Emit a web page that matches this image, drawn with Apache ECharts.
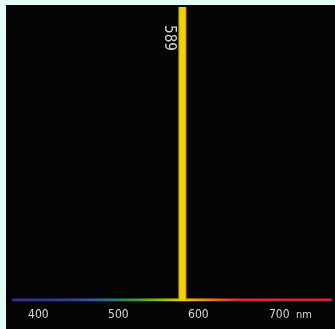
<!DOCTYPE html>
<html><head><meta charset="utf-8">
<script src="https://cdn.jsdelivr.net/npm/echarts@6/dist/echarts.min.js"></script>
<style>
html,body{margin:0;padding:0;background:#e2fff9;width:335px;height:329px;overflow:hidden}
#c{position:absolute;left:6px;top:5px;width:329px;height:324px;background:#050505}
</style></head><body>
<div id="c"></div>
<script>
var tickValues = [400, 500, 600, 700];
var lineName = '589';
var lineWavelength = 580;
var lineIntensity = 100;
var axisMin = 367, axisMax = 767;

var FONT = 'Liberation Sans Narrow, DejaVu Sans Condensed, sans-serif';
var chart = echarts.init(document.getElementById('c'));
chart.setOption({
  backgroundColor: '#050505',
  animation: false,
  grid: {left: 6, right: 3, top: 2, bottom: 29},
  xAxis: {
    type: 'value', min: axisMin, max: axisMax,
    splitLine: {show: false},
    axisLine: {show: false},
    axisTick: {show: false},
    axisLabel: {
      customValues: tickValues,
      margin: 9,
      color: '#d8d8d8',
      fontSize: 12,
      fontFamily: FONT,
      formatter: function (v) { return v === 700 ? '{p|}{n|700}{u|  nm}' : '{n|' + v + '}'; },
      rich: {
        p: {width: 24},
        n: {fontSize: 12, color: '#d8d8d8', fontFamily: FONT},
        u: {fontSize: 11, color: '#d8d8d8', fontFamily: FONT}
      }
    }
  },
  yAxis: {type: 'value', min: 0, max: 100, show: false},
  series: [
    {
      type: 'line', z: 1, symbol: 'none', silent: true,
      data: [[axisMin, 0], [axisMax, 0]],
      lineStyle: {
        width: 3,
        color: new echarts.graphic.LinearGradient(0, 0, 1, 0, [
          {offset: 0, color: '#3a2c8c'},
          {offset: 0.18, color: '#2f3f9c'},
          {offset: 0.28, color: '#2a66a0'},
          {offset: 0.38, color: '#2f9c48'},
          {offset: 0.47, color: '#98ba1c'},
          {offset: 0.53, color: '#ecd000'},
          {offset: 0.6, color: '#e8901e'},
          {offset: 0.7, color: '#d83030'},
          {offset: 1, color: '#c82828'}
        ])
      }
    },
    {
      type: 'bar', z: 3, barWidth: 8,
      data: [[lineWavelength, lineIntensity]],
      itemStyle: {
        color: new echarts.graphic.LinearGradient(0, 0, 1, 0, [
          {offset: 0, color: '#c8a200'},
          {offset: 0.25, color: '#f4d000'},
          {offset: 0.75, color: '#f4d000'},
          {offset: 1, color: '#c8a200'}
        ])
      },
      label: {
        show: true,
        formatter: lineName,
        position: [-10, 31],
        rotate: -90,
        align: 'center',
        verticalAlign: 'middle',
        color: '#d4d4d4',
        fontSize: 15,
        fontFamily: FONT
      }
    }
  ]
});
</script>
</body></html>
